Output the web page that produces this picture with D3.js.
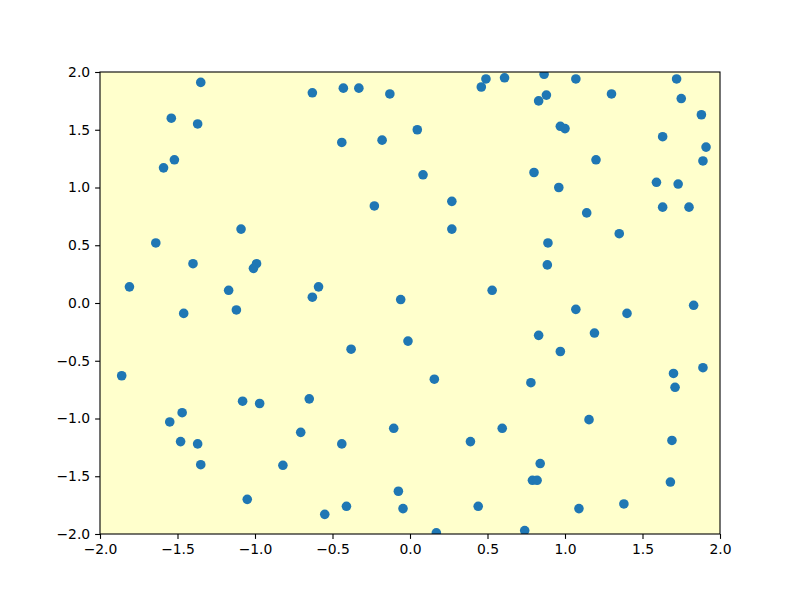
<!DOCTYPE html>
<html>
<head>
<meta charset="utf-8">
<script src="https://cdn.jsdelivr.net/npm/d3@7"></script>
<style>
  body { margin: 0; background: #fff; }
  svg text { font-family: "DejaVu Sans", sans-serif; font-size: 13.9px; fill: #000; }
</style>
</head>
<body>
<svg id="chart" width="800" height="600"></svg>
<script>
const xs = [
  -1.35, -0.63, -0.43, -0.33, -0.13, -1.54, -1.37, -0.44, -0.18, -1.52,
  -1.59, -0.23, -1.09, -1.64, -1.40, -0.99, -1.01, -1.81, -1.17, -0.59,
  -0.63, -0.06, -1.46, -1.12,
  0.49, 0.61, 0.865, 1.07, 1.72, 0.46, 0.88, 0.83, 1.30, 1.75,
  1.88, 0.047, 0.97, 1.00, 1.63, 1.91, 1.89, 1.20, 0.084, 0.80,
  0.96, 1.59, 1.73, 0.27, 1.63, 1.80, 1.14, 0.27, 1.35, 0.89,
  0.886, 0.53,
  -0.013, -0.38, -1.86, -1.08, -0.97, -0.65, -1.47, -1.55, -1.48, -1.37,
  -0.705, -0.44, -0.105, -1.35, -0.82, -1.05, -0.075, -0.41, -0.55, -0.045,
  1.07, 1.40, 1.83, 0.83, 1.19, 0.97, 0.157, 0.78, 1.70, 1.89,
  1.71, 1.155, 0.595, 0.39, 1.69, 0.84, 0.79, 0.82, 1.68, 0.44,
  1.09, 1.38, 0.17, 0.74
];
const ys = [
  1.91, 1.82, 1.86, 1.86, 1.81, 1.60, 1.55, 1.39, 1.41, 1.24,
  1.17, 0.84, 0.64, 0.52, 0.34, 0.34, 0.30, 0.14, 0.11, 0.14,
  0.05, 0.03, -0.09, -0.06,
  1.94, 1.95, 1.98, 1.94, 1.94, 1.87, 1.80, 1.75, 1.81, 1.77,
  1.63, 1.50, 1.53, 1.51, 1.44, 1.35, 1.23, 1.24, 1.11, 1.13,
  1.00, 1.045, 1.03, 0.88, 0.83, 0.83, 0.78, 0.64, 0.60, 0.52,
  0.33, 0.11,
  -0.33, -0.40, -0.63, -0.85, -0.87, -0.83, -0.95, -1.03, -1.20, -1.22,
  -1.12, -1.22, -1.085, -1.40, -1.405, -1.70, -1.63, -1.76, -1.83, -1.78,
  -0.055, -0.09, -0.02, -0.28, -0.26, -0.42, -0.66, -0.69, -0.61, -0.56,
  -0.73, -1.01, -1.085, -1.20, -1.19, -1.39, -1.535, -1.535, -1.55, -1.76,
  -1.78, -1.74, -1.99, -1.97
];
const xTicks = [-2.0, -1.5, -1.0, -0.5, 0.0, 0.5, 1.0, 1.5, 2.0];
const yTicks = [-2.0, -1.5, -1.0, -0.5, 0.0, 0.5, 1.0, 1.5, 2.0];

const svg = d3.select('#chart');
const plotLeft = 100, plotRight = 720, plotTop = 72, plotBottom = 534;

const x = d3.scaleLinear().domain([-2, 2]).range([plotLeft, plotRight]);
const y = d3.scaleLinear().domain([-2, 2]).range([plotBottom, plotTop]);

svg.append('rect')
  .attr('x', plotLeft).attr('y', plotTop)
  .attr('width', plotRight - plotLeft).attr('height', plotBottom - plotTop)
  .attr('fill', '#ffffcc');

svg.append('clipPath').attr('id', 'clip')
  .append('rect')
  .attr('x', plotLeft).attr('y', plotTop)
  .attr('width', plotRight - plotLeft).attr('height', plotBottom - plotTop);

svg.append('g')
  .attr('clip-path', 'url(#clip)')
  .selectAll('circle')
  .data(xs.map((v, i) => [v, ys[i]]))
  .enter()
  .append('circle')
  .attr('cx', d => x(d[0]))
  .attr('cy', d => y(d[1]))
  .attr('r', 4.8)
  .attr('fill', '#1f77b4');

// axes
const fmt = d3.format('.1f');
const xAxis = svg.append('g')
  .attr('transform', `translate(0,${plotBottom})`)
  .call(d3.axisBottom(x).tickValues(xTicks).tickFormat(fmt).tickSize(4.9).tickPadding(4.9));
const yAxis = svg.append('g')
  .attr('transform', `translate(${plotLeft},0)`)
  .call(d3.axisLeft(y).tickValues(yTicks).tickFormat(fmt).tickSize(4.9).tickPadding(4.9));

[xAxis, yAxis].forEach(g => {
  g.select('.domain').remove();
  g.selectAll('.tick line').attr('stroke', '#000').attr('stroke-width', 1.1);
  g.selectAll('.tick text').attr('font-size', null).attr('font-family', null).text(function () {
    return d3.select(this).text().replace('-', '\u2212');
  });
});

svg.append('rect')
  .attr('x', plotLeft).attr('y', plotTop)
  .attr('width', plotRight - plotLeft).attr('height', plotBottom - plotTop)
  .attr('fill', 'none')
  .attr('stroke', '#000')
  .attr('stroke-width', 1.1);
</script>
</body>
</html>
